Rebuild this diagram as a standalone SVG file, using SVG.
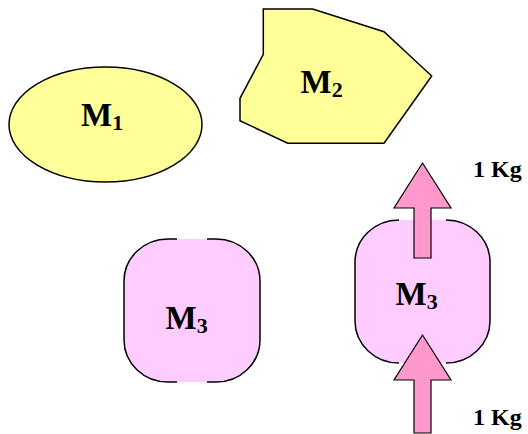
<svg xmlns="http://www.w3.org/2000/svg" width="528" height="434" viewBox="0 0 528 434">
<style>
.lbl{font-family:"Liberation Serif","Times New Roman",serif;font-weight:bold;font-size:33px;fill:#000}
.sub{font-size:22px}
.kg{font-family:"Liberation Serif","Times New Roman",serif;font-weight:bold;font-size:24px;fill:#000}
.yel{fill:#ffff99;stroke:#000;stroke-width:1.5}
.pinkfill{fill:#ffccff;stroke:none}
.pinkline{fill:none;stroke:#000;stroke-width:1.5}
.arrow{fill:#ff99cc;stroke:#000;stroke-width:1.2}
</style>
<rect width="528" height="434" fill="#fff"/>
<g id="m1">
<ellipse class="yel" cx="105.5" cy="124.5" rx="96.5" ry="57.5"/>
<text class="lbl" x="81" y="126">M<tspan class="sub" dy="4">1</tspan></text>
</g>
<g id="m2">
<polygon class="yel" points="263.3,9 312.7,9 384,31.7 431.7,76 384,143.3 287.7,143.3 240,120.7 240,98.3 263.3,54.3"/>
<text class="lbl" x="300.5" y="93">M<tspan class="sub" dy="4">2</tspan></text>
</g>
<g id="m3a">
<rect class="pinkfill" x="124" y="239" width="136" height="143" rx="44" ry="42"/>
<path class="pinkline" d="M177,239 H168 A44,42 0 0 0 124,281 V340 A44,42 0 0 0 168,382 H177"/>
<path class="pinkline" d="M207,239 H216 A44,42 0 0 1 260,281 V340 A44,42 0 0 1 216,382 H207"/>
<text class="lbl" x="165.5" y="329">M<tspan class="sub" dy="4">3</tspan></text>
</g>
<g id="m3b">
<rect class="pinkfill" x="355" y="220" width="135" height="143" rx="44" ry="42"/>
<path class="pinkline" d="M398,220 H399 A44,42 0 0 0 355,262 V321 A44,42 0 0 0 399,363 H398"/>
<path class="pinkline" d="M447,220 H446 A44,42 0 0 1 490,262 V321 A44,42 0 0 1 446,363 H447"/>
<text class="lbl" x="395.5" y="305">M<tspan class="sub" dy="4">3</tspan></text>
</g>
<g id="connectors">
<polygon class="arrow" points="414,258 414,208 394,208 422.5,163 451,208 431,208 431,258"/>
<polygon class="arrow" points="414,433 414,380 394,380 422.5,335 451,380 431,380 431,433"/>
</g>
<g id="labels">
<text class="kg" x="473" y="177">1 Kg</text>
<text class="kg" x="473" y="425">1 Kg</text>
</g>
</svg>
